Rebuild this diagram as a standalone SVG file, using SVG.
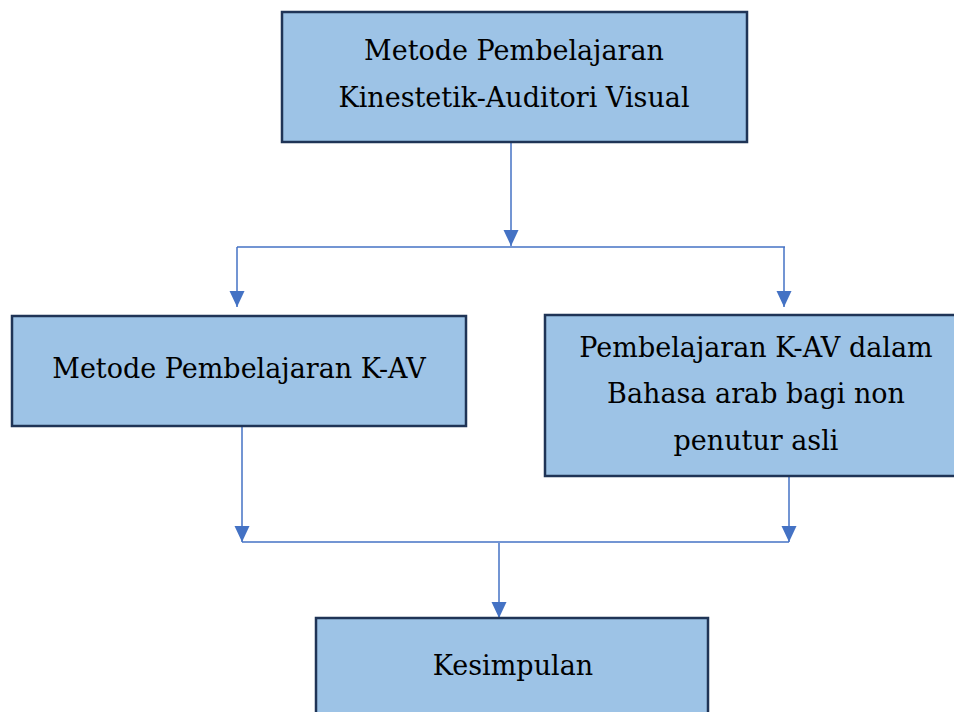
<svg xmlns="http://www.w3.org/2000/svg" width="954" height="712" viewBox="0 0 954 712">
<defs>
<style>
.box{fill:#9DC3E6;stroke:#1F3456;stroke-width:2.5}
.t{font-family:"DejaVu Serif","Liberation Serif",serif;font-size:27px;fill:#000;text-anchor:middle}
.c{fill:none;stroke:#4472C4;stroke-width:1.5}
</style>
<marker id="ah" viewBox="0 0 16 16" refX="16" refY="8" markerWidth="16" markerHeight="16" markerUnits="userSpaceOnUse" orient="auto">
<path d="M0,0.5 L16,8 L0,15.5 z" fill="#4472C4"/>
</marker>
</defs>
<rect width="954" height="712" fill="#fff"/>
<g id="connectors">
<path class="c" d="M511,136 V246" marker-end="url(#ah)"/>
<path class="c" d="M237,247 H785"/>
<path class="c" d="M237,247 V307" marker-end="url(#ah)"/>
<path class="c" d="M784,247 V307" marker-end="url(#ah)"/>
<path class="c" d="M242,426 V542" marker-end="url(#ah)"/>
<path class="c" d="M789,476 V542" marker-end="url(#ah)"/>
<path class="c" d="M242,542 H789"/>
<path class="c" d="M499,543 V618" marker-end="url(#ah)"/>
</g>
<g id="node-top">
<rect class="box" x="282" y="12" width="465" height="130"/>
<text class="t" x="514" y="60">Metode Pembelajaran</text>
<text class="t" x="514" y="107">Kinestetik-Auditori Visual</text>
</g>
<g id="node-kav">
<rect class="box" x="12" y="316" width="454" height="110"/>
<text class="t" x="239" y="378">Metode Pembelajaran K-AV</text>
</g>
<g id="node-arab">
<rect class="box" x="545" y="315" width="420" height="161"/>
<text class="t" x="756" y="357">Pembelajaran K-AV dalam</text>
<text class="t" x="756" y="403">Bahasa arab bagi non</text>
<text class="t" x="756" y="450">penutur asli</text>
</g>
<g id="node-kesimpulan">
<rect class="box" x="316" y="618" width="392" height="110"/>
<text class="t" x="513" y="675">Kesimpulan</text>
</g>
</svg>
